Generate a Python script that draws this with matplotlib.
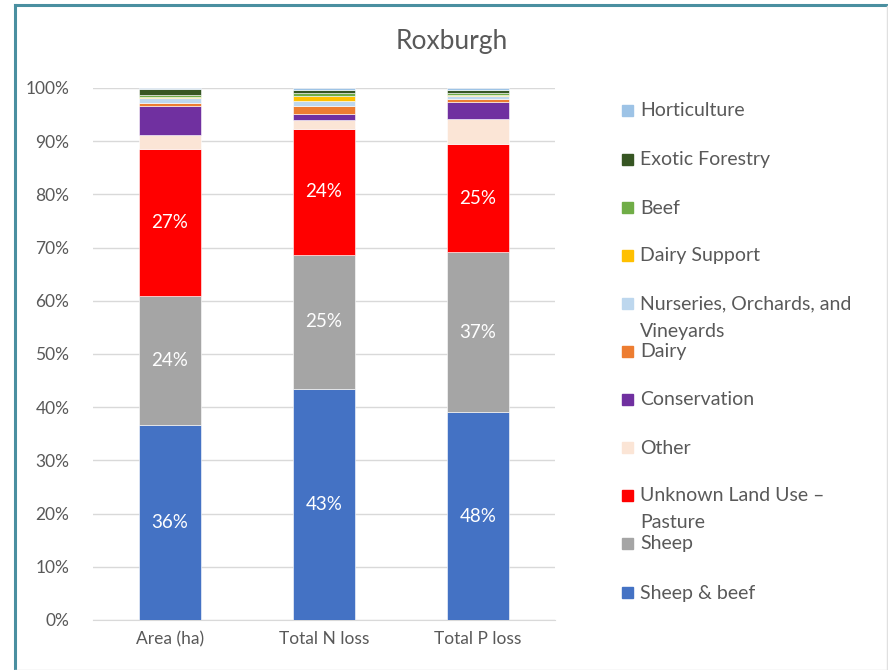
import matplotlib
matplotlib.use("Agg")
import matplotlib.pyplot as plt
from matplotlib.patches import Rectangle
from matplotlib.lines import Line2D
import numpy as np

plt.rcParams['font.family'] = ['Lato', 'DejaVu Sans']

categories = ["Area (ha)", "Total N loss", "Total P loss"]

# Series in stacking order (bottom to top)
series_names = [
    "Sheep & beef",
    "Sheep",
    "Unknown Land Use \u2013\nPasture",
    "Other",
    "Conservation",
    "Dairy",
    "Nurseries, Orchards, and\nVineyards",
    "Dairy Support",
    "Beef",
    "Exotic Forestry",
    "Horticulture",
]
series_colors = [
    "#4472C4", "#A5A5A5", "#FF0000", "#FBE5D6", "#7030A0", "#ED7D31",
    "#BDD7EE", "#FFC000", "#70AD47", "#375623", "#9DC3E6",
]

sheep_beef   = [36.4, 43.4, 48.0]
sheep        = [24.1, 25.2, 37.0]
unknown_past = [27.4, 23.7, 25.0]
other        = [2.6, 1.6, 5.8]
conservation = [5.4, 1.2, 3.9]
dairy        = [0.6, 1.45, 0.7]
nurseries    = [0.9, 1.0, 0.6]
dairy_supp   = [0.3, 0.9, 0.25]
beef         = [0.3, 0.55, 0.5]
exotic       = [1.2, 0.55, 0.85]
horticulture = [0.1, 0.4, 0.35]

series_values = [sheep_beef, sheep, unknown_past, other, conservation, dairy,
                 nurseries, dairy_supp, beef, exotic, horticulture]
labelled = {0, 1, 2}

W, H = 888, 670
fig = plt.figure(figsize=(W / 100, H / 100), dpi=100)
fig.patch.set_facecolor("white")

# plot area in pixel coordinates
left, right, top, bottom = 93, 555, 88, 620
ax = fig.add_axes([left / W, 1 - bottom / H, (right - left) / W, (bottom - top) / H])

vals = np.array(series_values, dtype=float)
totals = vals.sum(axis=0)
shares = vals / totals
x = np.arange(len(categories))
base = np.zeros(len(categories))
for i, (name, col) in enumerate(zip(series_names, series_colors)):
    ax.bar(x, shares[i], 0.4, bottom=base, color=col, edgecolor="white",
           linewidth=0.4, zorder=3)
    if i in labelled:
        for j in range(len(categories)):
            ax.text(x[j], base[j] + shares[i][j] / 2, f"{vals[i][j]:.0f}%",
                    ha="center", va="center", color="white", fontsize=13.5, zorder=4)
    base = base + shares[i]

ax.set_xlim(-0.5, len(categories) - 0.5)
ax.set_ylim(0, 1)
ticks = np.linspace(0, 1, 11)
ax.set_yticks(ticks)
ax.set_yticklabels([f"{int(round(t * 100))}%" for t in ticks])
ax.set_xticks(x)
ax.set_xticklabels(categories)
ax.tick_params(axis="both", length=0, labelsize=12.5, colors="#595959")
ax.tick_params(axis="x", pad=8)
ax.tick_params(axis="y", pad=17)
ax.grid(axis="y", color="#D9D9D9", linewidth=1.0, zorder=0)
for s in ax.spines.values():
    s.set_visible(False)
ax.spines["bottom"].set_visible(True)
ax.spines["bottom"].set_color("#D9D9D9")

fig.text(452 / W, 1 - 42 / H, "Roxburgh", ha="center", va="center",
         fontsize=19, color="#595959")

# legend, top entry = last series
legend_y = [111, 160, 208, 256, 304, 352, 400, 448, 496, 544, 593]
order = list(range(len(series_names)))[::-1]
for yy, i in zip(legend_y, order):
    fig.patches.append(Rectangle((622 / W, 1 - (yy + 5) / H), 11 / W, 11 / H,
                                 transform=fig.transFigure, color=series_colors[i]))
    name = series_names[i]
    if "\n" in name:
        fig.text(640 / W, 1 - (yy - 9) / H, name, ha="left", va="top",
                 fontsize=14, color="#595959", linespacing=1.75)
    else:
        fig.text(640 / W, 1 - yy / H, name, ha="left", va="center",
                 fontsize=14, color="#595959")

# outer frame
fig.add_artist(Line2D([15 / W, 15 / W], [0, 1 - 5 / H], transform=fig.transFigure,
                      color="#4A8FA0", linewidth=2.2))
fig.add_artist(Line2D([15 / W, 1], [1 - 5 / H, 1 - 5 / H], transform=fig.transFigure,
                      color="#4A8FA0", linewidth=2.2))
fig.add_artist(Line2D([1 - 1 / W, 1 - 1 / W], [0, 1 - 6 / H], transform=fig.transFigure,
                      color="#E0E0E0", linewidth=1))
fig.add_artist(Line2D([15 / W, 1], [0.5 / H, 0.5 / H], transform=fig.transFigure,
                      color="#E0E0E0", linewidth=1))

fig.savefig("out.png", dpi=100)
